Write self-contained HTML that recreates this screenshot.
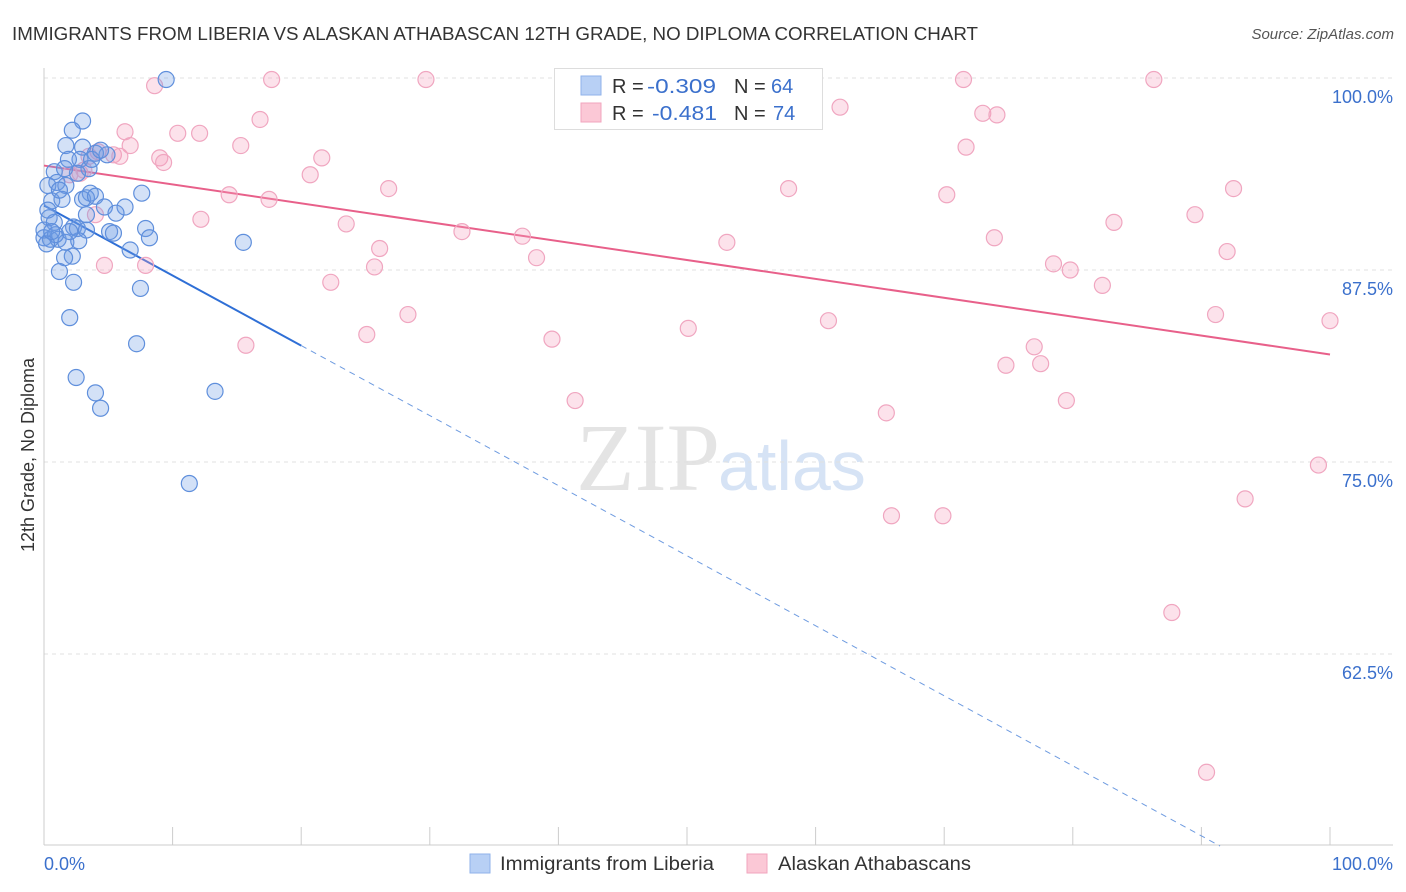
<!DOCTYPE html>
<html><head><meta charset="utf-8"><style>
body{margin:0;background:#fff;font-family:"Liberation Sans",sans-serif;}
svg{display:block}
</style></head><body>
<svg id="chart" width="1406" height="892">
<text x="12" y="40" font-size="18" fill="#333" textLength="966" lengthAdjust="spacingAndGlyphs">IMMIGRANTS FROM LIBERIA VS ALASKAN ATHABASCAN 12TH GRADE, NO DIPLOMA CORRELATION CHART</text>
<text x="1394" y="39" font-size="15" fill="#555" font-style="italic" text-anchor="end">Source: ZipAtlas.com</text>
<text x="720" y="490" font-size="96" fill="#e4e4e4" text-anchor="end" font-family="Liberation Serif,serif">ZIP</text>
<text x="718" y="490" font-size="70" fill="#d6e3f5">atlas</text>
<g id="grid"></g><g id="axes"></g><g id="lines"></g><g id="pts"></g>
<text transform="translate(34,455) rotate(-90)" font-size="18" fill="#333" text-anchor="middle">12th Grade, No Diploma</text>
<text x="44" y="870" font-size="18" fill="#3b70cc">0.0%</text>
<text x="1393" y="870" font-size="18" fill="#3b70cc" text-anchor="end">100.0%</text>
<g>
<rect x="554.5" y="68.5" width="268" height="61" fill="#fff" stroke="#ddd"/>
<rect x="581" y="76" width="20" height="19" fill="#b8d0f5" stroke="#8fb2ea"/>
<rect x="581" y="103" width="20" height="19" fill="#fbc8d6" stroke="#f2a5be"/>
<text x="612" y="93" font-size="20" fill="#333">R =</text>
<text x="647" y="93" font-size="20" fill="#3b70cc" textLength="69" lengthAdjust="spacingAndGlyphs">-0.309</text>
<text x="734" y="93" font-size="20" fill="#333">N =</text>
<text x="771" y="93" font-size="20" fill="#3b70cc">64</text>
<text x="612" y="120" font-size="20" fill="#333">R =</text>
<text x="652" y="120" font-size="20" fill="#3b70cc" textLength="65" lengthAdjust="spacingAndGlyphs">-0.481</text>
<text x="734" y="120" font-size="20" fill="#333">N =</text>
<text x="773" y="120" font-size="20" fill="#3b70cc">74</text>
</g>
<g>
<rect x="470" y="854" width="20" height="19" fill="#b8d0f5" stroke="#8fb2ea"/>
<text x="500" y="870" font-size="19" fill="#333" textLength="214" lengthAdjust="spacingAndGlyphs">Immigrants from Liberia</text>
<rect x="747" y="854" width="20" height="19" fill="#fbc8d6" stroke="#f2a5be"/>
<text x="778" y="870" font-size="19" fill="#333" textLength="193" lengthAdjust="spacingAndGlyphs">Alaskan Athabascans</text>
</g>
</svg>
<script>
const yTicks=[100,87.5,75,62.5];
const yTickLabels=["100.0%","87.5%","75.0%","62.5%"];
const xTicks=[0,10,20,30,40,50,60,70,80,90,100];
const blueX=[9.5,3.0,2.2,1.7,3.0,4.9,4.0,2.8,1.9,3.5,0.8,2.6,1.0,1.7,0.3,3.6,7.6,0.6,1.4,3.0,3.3,4.0,4.7,6.3,5.6,0.4,0.8,2.3,2.6,3.3,5.1,5.4,7.9,8.2,0.0,0.5,1.1,1.7,2.7,15.5,6.7,2.2,1.6,1.2,2.3,7.5,2.0,7.2,2.5,4.0,13.3,4.4,11.3,0.0,0.3,1.2,0.9,3.7,4.4,1.6,3.3,2.0,0.2,0.6];
const blueY=[99.9,97.2,96.6,95.6,95.5,95.0,95.1,94.7,94.7,94.1,93.9,93.8,93.2,93.0,93.0,92.5,92.5,92.0,92.1,92.1,92.2,92.3,91.6,91.6,91.2,90.9,90.6,90.3,90.2,90.1,90.0,89.9,90.2,89.6,89.6,89.5,89.5,89.3,89.4,89.3,88.8,88.4,88.3,87.4,86.7,86.3,84.4,82.7,80.5,79.5,79.6,78.5,73.6,90.1,91.4,92.7,89.8,94.7,95.3,94.1,91.1,90.0,89.2,90.0];
const pinkX=[8.6,17.7,29.7,71.5,86.3,61.9,73.0,74.1,6.3,10.4,12.1,16.8,15.3,71.7,6.7,5.4,4.2,5.9,9.0,9.3,21.6,20.7,2.8,26.8,14.4,17.5,57.9,70.2,92.5,89.5,4.0,12.2,23.5,83.2,32.5,37.2,53.1,73.9,26.1,38.3,92.0,25.7,4.7,7.9,78.5,79.8,22.3,82.3,28.3,91.1,61.0,50.1,100.0,25.1,39.5,15.7,77.0,74.8,77.5,41.3,79.5,65.5,99.1,93.4,65.9,69.9,87.7,90.4,3.5,2.0,3.1];
const pinkY=[99.5,99.9,99.9,99.9,99.9,98.1,97.7,97.6,96.5,96.4,96.4,97.3,95.6,95.5,95.6,95.0,95.2,94.9,94.8,94.5,94.8,93.7,93.8,92.8,92.4,92.1,92.8,92.4,92.8,91.1,91.1,90.8,90.5,90.6,90.0,89.7,89.3,89.6,88.9,88.3,88.7,87.7,87.8,87.8,87.9,87.5,86.7,86.5,84.6,84.6,84.2,83.7,84.2,83.3,83.0,82.6,82.5,81.3,81.4,79.0,79.0,78.2,74.8,72.6,71.5,71.5,65.2,54.8,94.9,93.7,94.0];
const blueTrend=[91.7,-0.456];
const pinkTrend=[94.3,-0.123];
const X=v=>44+v*12.86, Y=v=>78+(100-v)*15.36;
const NS="http://www.w3.org/2000/svg";
function mk(t,a,p){const e=document.createElementNS(NS,t);for(const k in a)e.setAttribute(k,a[k]);document.getElementById(p).appendChild(e);return e;}
yTicks.forEach((t,i)=>{
 const g=mk('line',{x1:44,x2:1393,y1:Y(t),y2:Y(t),stroke:'#e0e0e0','stroke-dasharray':'4,4'},'grid');
 
 
 const l=mk('text',{x:1393,y:Y(t)+25,'font-size':18,fill:'#3b70cc','text-anchor':'end'},'axes');
 l.textContent=yTickLabels[i];
 
 
});
mk('line',{x1:44,x2:44,y1:68,y2:845,stroke:'#ccc'},'axes');
mk('line',{x1:44,x2:1393,y1:845,y2:845,stroke:'#ccc'},'axes');
xTicks.forEach(t=>{
 const e=mk('line',{x1:X(t),x2:X(t),y1:827,y2:845,stroke:'#ccc'},'axes');
 
 
});
const bEnd=(50-blueTrend[0])/blueTrend[1];
let e=mk('line',{x1:X(0),y1:Y(blueTrend[0]),x2:X(20),y2:Y(blueTrend[0]+blueTrend[1]*20),stroke:'#2f6fd6','stroke-width':2},'lines');


e=mk('line',{x1:X(20),y1:Y(blueTrend[0]+blueTrend[1]*20),x2:X(bEnd),y2:Y(50),stroke:'#6e9be0','stroke-width':1,'stroke-dasharray':'6,5'},'lines');


e=mk('line',{x1:X(0),y1:Y(pinkTrend[0]),x2:X(100),y2:Y(pinkTrend[0]+pinkTrend[1]*100),stroke:'#e8608a','stroke-width':2},'lines');


pinkX.forEach((v,i)=>{
 const c=mk('circle',{cx:X(v),cy:Y(pinkY[i]),r:8,fill:'rgba(244,160,190,0.3)',stroke:'#f0a6c0','stroke-width':1.2},'pts');
 
 
});
blueX.forEach((v,i)=>{
 const c=mk('circle',{cx:X(v),cy:Y(blueY[i]),r:8,fill:'rgba(110,155,230,0.3)',stroke:'#5f8fdc','stroke-width':1.2},'pts');
 
 
});
</script>
</body></html>
